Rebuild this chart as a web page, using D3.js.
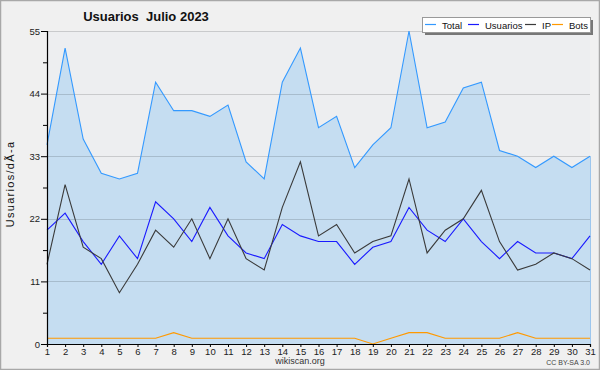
<!DOCTYPE html>
<html>
<head>
<meta charset="utf-8">
<script src="https://cdn.jsdelivr.net/npm/d3@7"></script>
<style>
  body { margin: 0; background: #f0f0f0; }
  svg { display: block; }
</style>
</head>
<body>
<svg id="chart" width="600" height="370"></svg>
<script>
const fontFamily = "'Liberation Sans', Arial, sans-serif";

// Days of July 2023
const days = d3.range(1, 32);

// Daily series
const total    = [35, 52, 36, 30, 29, 30, 46, 41, 41, 40, 42, 32, 29, 46, 52, 38, 40, 31, 35, 38, 55, 38, 39, 45, 46, 34, 33, 31, 33, 31, 33];
const usuarios = [20, 23, 18, 14, 19, 15, 25, 22, 18, 24, 19, 16, 15, 21, 19, 18, 18, 14, 17, 18, 24, 20, 18, 22, 18, 15, 18, 16, 16, 15, 19];
const ip       = [14, 28, 17, 15, 9, 14, 20, 17, 22, 15, 22, 15, 13, 24, 32, 19, 21, 16, 18, 19, 29, 16, 20, 22, 27, 18, 13, 14, 16, 15, 13];
const bots     = [1, 1, 1, 1, 1, 1, 1, 2, 1, 1, 1, 1, 1, 1, 1, 1, 1, 1, 0, 1, 2, 2, 1, 1, 1, 1, 2, 1, 1, 1, 1];

const yMajorTicks = [0, 11, 22, 33, 44, 55];
const yMinorTicks = [5.5, 16.5, 27.5, 38.5, 49.5];

const seriesNames = ["Total", "Usuarios", "IP", "Bots"];
const seriesColors = ["#3399ff", "#1a1aff", "#3a3a3a", "#ff9900"];

const width = 600, height = 370;
const svg = d3.select("#chart");

const x = d3.scaleLinear().domain([1, 31]).range([47, 590]);
const y = d3.scaleLinear().domain([0, 55]).range([344, 31]);

// Outer background + border
svg.append("rect")
  .attr("x", 0.5).attr("y", 0.5)
  .attr("width", width - 1).attr("height", height - 1)
  .attr("fill", "#f0f0f0")
  .attr("stroke", "#a8a8a8")
  .attr("stroke-width", 1.5);

// Plot background
svg.append("rect")
  .attr("x", x(1)).attr("y", y(55))
  .attr("width", x(31) - x(1)).attr("height", y(0) - y(55))
  .attr("fill", "#edeef0");

// Total area
svg.append("path")
  .datum(total)
  .attr("d", d3.area()
    .x((d, i) => x(days[i]))
    .y0(y(0))
    .y1(d => y(d)))
  .attr("fill", "#c5ddf1");

// Gridlines
svg.append("g")
  .selectAll("line")
  .data(yMajorTicks.filter(d => d > 0))
  .enter()
  .append("line")
  .attr("x1", x(1)).attr("x2", x(31))
  .attr("y1", d => Math.round(y(d)) + 0.5)
  .attr("y2", d => Math.round(y(d)) + 0.5)
  .attr("stroke", "rgba(0,0,0,0.15)")
  .attr("stroke-width", 1);

// Right edge of the filled area
svg.append("line")
  .attr("x1", x(31) + 0.5).attr("x2", x(31) + 0.5)
  .attr("y1", y(total[30])).attr("y2", y(0))
  .attr("stroke", "#9cc6ee");

// Series lines
const lineGen = d3.line().x((d, i) => x(days[i])).y(d => y(d));
[total, usuarios, ip, bots].forEach((s, k) => {
  svg.append("path")
    .datum(s)
    .attr("d", lineGen)
    .attr("fill", "none")
    .attr("stroke", seriesColors[k])
    .attr("stroke-width", 1.1);
});

// Y axis
const yAxis = svg.append("g")
  .attr("transform", `translate(${x(1)},0)`)
  .call(d3.axisLeft(y).tickValues(yMajorTicks).tickSize(6).tickPadding(1));
svg.append("g")
  .attr("transform", `translate(${x(1)},0)`)
  .call(d3.axisLeft(y).tickValues(yMinorTicks).tickSize(4).tickFormat(""))
  .select(".domain").remove();

// X axis
const xAxis = svg.append("g")
  .attr("transform", `translate(0,${y(0)})`)
  .call(d3.axisBottom(x).tickValues(days).tickSize(3).tickPadding(1).tickFormat(d3.format("d")));

[yAxis, xAxis].forEach(g => {
  g.selectAll("text")
    .attr("font-family", fontFamily)
    .attr("font-size", "9.5px")
    .attr("fill", "#222");
  g.selectAll("path, line").attr("stroke", "#000");
  g.select(".domain").attr("stroke-width", 1.2);
});

// Title
svg.append("text")
  .attr("x", 146).attr("y", 21)
  .attr("text-anchor", "middle")
  .attr("font-family", fontFamily)
  .attr("font-size", "13px")
  .attr("font-weight", "700")
  .attr("fill", "#111")
  .style("white-space", "pre")
  .text("Usuarios  Julio 2023");

// Y label
svg.append("text")
  .attr("transform", "translate(14,184) rotate(-90)")
  .attr("text-anchor", "middle")
  .attr("font-family", fontFamily)
  .attr("font-size", "11px")
  .attr("letter-spacing", "1.3px")
  .attr("fill", "#111")
  .text("Usuarios/dÃ-a");

// Footer
svg.append("text")
  .attr("x", 300).attr("y", 364)
  .attr("text-anchor", "middle")
  .attr("font-family", fontFamily)
  .attr("font-size", "9px")
  .attr("fill", "#333")
  .text("wikiscan.org");

svg.append("text")
  .attr("x", 590).attr("y", 365)
  .attr("text-anchor", "end")
  .attr("font-family", fontFamily)
  .attr("font-size", "7px")
  .attr("fill", "#444")
  .text("CC BY-SA 3.0");

// Legend
const legend = svg.append("g").attr("transform", "translate(422,17)");
legend.append("rect")
  .attr("x", 3).attr("y", 3)
  .attr("width", 168).attr("height", 15)
  .attr("fill", "#777");
legend.append("rect")
  .attr("x", 0.5).attr("y", 0.5)
  .attr("width", 168).attr("height", 15)
  .attr("fill", "#fff")
  .attr("stroke", "#999");

const legendX = [3, 46, 103, 130];
seriesNames.forEach((name, k) => {
  legend.append("line")
    .attr("x1", legendX[k]).attr("x2", legendX[k] + 11)
    .attr("y1", 7.5).attr("y2", 7.5)
    .attr("stroke", seriesColors[k])
    .attr("stroke-width", 1.2);
  legend.append("text")
    .attr("x", legendX[k] + 17).attr("y", 11.5)
    .attr("font-family", fontFamily)
    .attr("font-size", "9.5px")
    .attr("fill", "#111")
    .text(name);
});
</script>
</body>
</html>
